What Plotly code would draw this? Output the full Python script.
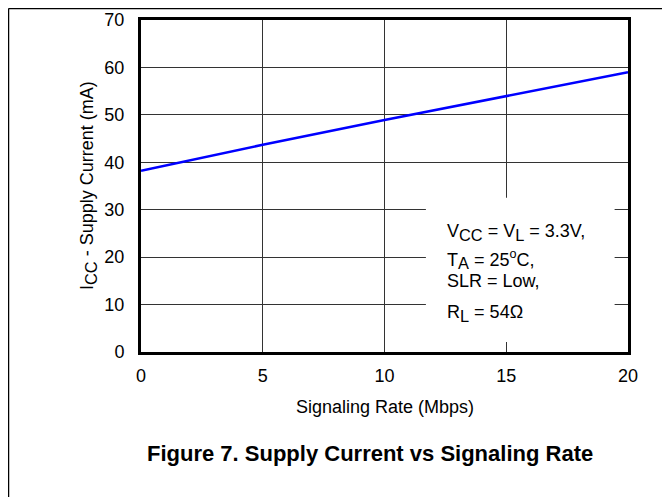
import plotly.graph_objects as go

rate_mbps = [0, 5, 10, 15, 20]
icc_ma = [38.2, 43.7, 48.9, 54.0, 59.0]
x_ticks = [0, 5, 10, 15, 20]
y_ticks = [0, 10, 20, 30, 40, 50, 60, 70]


def sub(s):
    return "<sub><span style='font-size:130%'>" + s + "</span></sub>"


cond_lines = ["V" + sub("CC") + " = V" + sub("L") + " = 3.3V,",
              "T" + sub("A") + " = 25<sup>o</sup>C,",
              "SLR = Low,",
              "R" + sub("L") + " = 54Ω"]
cond_y = [25.2, 19.5, 15.0, 8.2]

FONT = "Liberation Sans, Arial, sans-serif"
W, H = 662, 489
L, R, T, B = 133, 42, 12, 145
PW, PH = W - L - R, H - T - B

fig = go.Figure()
fig.add_trace(go.Scatter(x=rate_mbps, y=icc_ma, mode="lines",
                         line=dict(color="#0000ff", width=2.5),
                         showlegend=False, hoverinfo="skip"))

# white box for conditions (covers gridlines)
fig.add_shape(type="rect", xref="x", yref="y", x0=11.7, x1=19.45, y0=2.1, y1=32.5,
              fillcolor="white", line=dict(width=0), layer="between")

for txt, yy in zip(cond_lines, cond_y):
    fig.add_annotation(x=12.5, y=yy, xref="x", yref="y", text=txt, showarrow=False,
                       xanchor="left", yanchor="middle",
                       font=dict(family=FONT, size=18, color="black"))

# outer page border (left and top)
bx = (0.5 - L) / PW
by = 1 + (T - 0.5) / PH
fig.add_shape(type="line", xref="paper", yref="paper",
              x0=bx, x1=bx, y0=-B / PH, y1=by,
              line=dict(color="black", width=1.5))
fig.add_shape(type="line", xref="paper", yref="paper",
              x0=bx, x1=1 + R / PW, y0=by, y1=by,
              line=dict(color="black", width=1.5))

# axis titles
fig.add_annotation(x=0.5, y=-55 / PH, xref="paper", yref="paper",
                   text="Signaling Rate (Mbps)", showarrow=False,
                   xanchor="center", yanchor="middle",
                   font=dict(family=FONT, size=18, color="black"))
fig.add_annotation(x=-53 / PW, y=0.5, xref="paper", yref="paper",
                   text="I" + sub("CC") + " - Supply Current (mA)", showarrow=False,
                   textangle=-90, xanchor="center", yanchor="middle",
                   font=dict(family=FONT, size=18, color="black"))

fig.add_annotation(x=(362 - L) / PW, y=-101 / PH, xref="paper", yref="paper",
                   text="<b>Figure 7. Supply Current vs Signaling Rate</b>",
                   showarrow=False, xanchor="center", yanchor="middle",
                   font=dict(family=FONT, size=22, color="black"))

fig.update_xaxes(range=[0, 20], tickvals=x_ticks, showgrid=True, gridcolor="#333333",
                 gridwidth=1, showline=True, linecolor="black", linewidth=3, mirror=True,
                 ticks="", ticklabelstandoff=5, zeroline=False,
                 tickfont=dict(family=FONT, size=18, color="black"))
fig.update_yaxes(range=[0, 70], tickvals=y_ticks, showgrid=True, gridcolor="#333333",
                 gridwidth=1, showline=True, linecolor="black", linewidth=3, mirror=True,
                 ticks="", ticklabelstandoff=10, zeroline=False,
                 tickfont=dict(family=FONT, size=18, color="black"))

fig.update_layout(width=W, height=H,
                  margin=dict(l=L, r=R, t=T, b=B, autoexpand=False),
                  plot_bgcolor="white", paper_bgcolor="white",
                  font=dict(family=FONT, color="black"))

fig.write_html("out.html")
